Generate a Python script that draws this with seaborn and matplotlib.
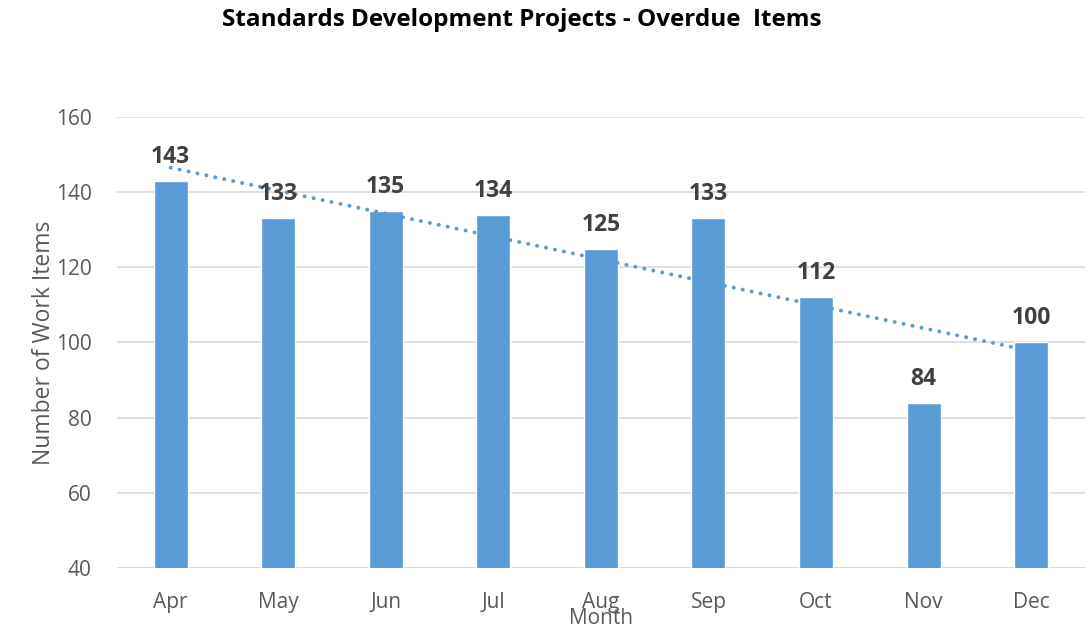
import matplotlib
matplotlib.use("Agg")
import matplotlib.pyplot as plt
import seaborn as sns
import numpy as np
import pandas as pd

months = ["Apr", "May", "Jun", "Jul", "Aug", "Sep", "Oct", "Nov", "Dec"]
overdue = [143, 133, 135, 134, 125, 133, 112, 84, 100]
yticks = [40, 60, 80, 100, 120, 140, 160]

sns.set_theme(style="white")
plt.rcParams["font.family"] = ["Open Sans", "DejaVu Sans"]

df = pd.DataFrame({"Month": months, "Items": overdue})

fig = plt.figure(figsize=(10.91, 6.30), dpi=100)
ax = fig.add_axes([0.107, 0.0984, 0.8875, 0.7159])

sns.barplot(data=df, x="Month", y="Items", color="#5B9BD5", saturation=1,
            width=0.316, ax=ax, zorder=3)

# linear trendline
x = np.arange(len(overdue))
k, b = np.polyfit(x, overdue, 1)
ax.plot(x, k * x + b, linestyle=(0, (0.05, 2.3)), color="#5B9BD5", lw=2.8,
        zorder=4, dash_capstyle="round")

for xi, v in zip(x, overdue):
    ax.text(xi, v + 3.2, str(v), ha="center", va="bottom", fontsize=16.5,
            fontweight="bold", color="#404040", zorder=5)

ax.set_ylim(40, 160)
ax.set_xlim(-0.5, len(months) - 0.5)
ax.set_yticks(yticks)
ax.grid(axis="y", color="#D9D9D9", lw=1.2, zorder=0)
for s in ax.spines.values():
    s.set_visible(False)
ax.axhline(40, color="#D9D9D9", lw=1.4, zorder=1)
ax.tick_params(axis="both", length=0, labelsize=15, labelcolor="#595959")
ax.tick_params(axis="y", pad=18)
ax.tick_params(axis="x", pad=17)
ax.set_xlabel("Month", fontsize=15, color="#595959", labelpad=-3)
ax.set_ylabel("Number of Work Items", fontsize=16.5, color="#595959", labelpad=0)

fig.suptitle("Standards Development Projects - Overdue  Items", x=0.478, y=0.988,
             fontsize=17.5, fontweight="bold", color="black")

fig.savefig("out.png", dpi=100)
